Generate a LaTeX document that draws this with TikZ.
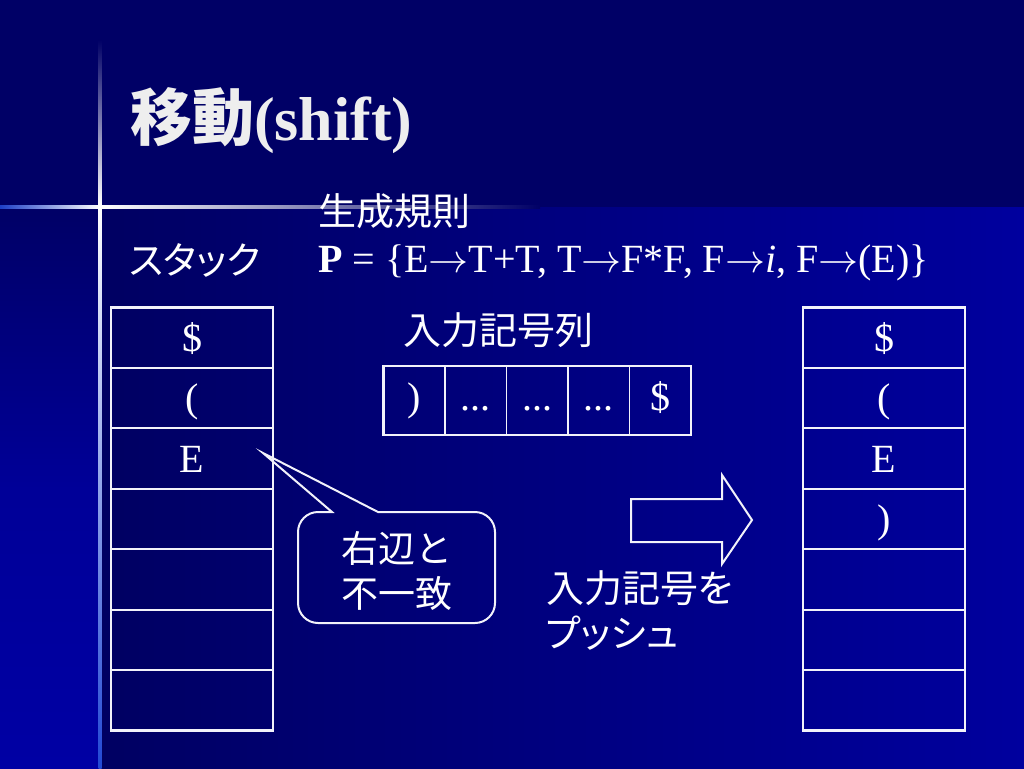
\documentclass[tikz,border=0pt]{standalone}
\usepackage{graphicx}
\usepackage{fontspec}
\setmainfont{Liberation Serif}
\newfontfamily\jp{Noto Sans CJK JP}
\newfontfamily\jpp{Noto Sans CJK JP}[RawFeature=+palt]
\newcommand\tapedots{...}
\newcommand\rarr{\mbox{\fontsize{10}{12}\selectfont\scalebox{4}{$\rightarrow$}}}
\definecolor{bandnavy}{HTML}{000066}
\definecolor{mainleft}{HTML}{000062}
\definecolor{mainright}{HTML}{00009E}
\definecolor{stripblue}{HTML}{0000A4}
\definecolor{glowblue}{HTML}{2A5AF0}
\definecolor{titlegray}{HTML}{EEEEEE}
\definecolor{linewhite}{HTML}{F2F2FA}
\tikzset{
  stackcell/.style={draw=linewhite, line width=1.8pt, minimum width=162pt, minimum height=60.43pt,
    inner sep=0pt, outer sep=0pt, text=white, font=\fontsize{40}{48}\selectfont,
    text height=27pt, text depth=0pt},
  tapecell/.style={draw=linewhite, line width=1.8pt, minimum width=61.6pt, minimum height=69pt,
    inner sep=0pt, outer sep=0pt, text=white, font=\fontsize{40}{48}\selectfont,
    text height=19pt, text depth=0pt},
  frame/.style={draw=linewhite, line width=2.6pt},
  jptext/.style={text=white, inner sep=0pt, font=\jp\fontsize{38}{45}\selectfont},
  outline/.style={draw=linewhite, line width=2pt, line join=miter},
}
\begin{document}
\begin{tikzpicture}[x=1pt,y=-1pt]
\useasboundingbox (0,0) rectangle (1024,768);
% background
\fill[bandnavy] (0,0) rectangle (1024,768);
\shade[left color=mainleft, right color=mainright] (100,207) rectangle (1024,768);
\shade[top color=bandnavy, bottom color=stripblue, middle color=stripblue!80!bandnavy] (0,207) rectangle (100,768);
% sparkle
\shade[left color=glowblue!70!bandnavy, right color=white] (0,205) rectangle (100,208.5);
\shade[left color=white, middle color=glowblue, right color=bandnavy] (100,205) rectangle (540,208.5);
\shade[top color=bandnavy, bottom color=white] (98.5,40) rectangle (101.5,206);
\shade[top color=white, middle color=glowblue, bottom color=glowblue!80!bandnavy] (98.5,206) rectangle (101.5,768);
\fill[white] (100,206.7) circle (2.2);

% title
\node[anchor=base west, text=titlegray, inner sep=0pt,
  font=\fontsize{62}{70}\selectfont\bfseries] (title) at (130,140) {{\jp 移動}(shift)};

% headings
\node[jptext, anchor=base west] (rules) at (318,225) {生成規則};
\node[jptext, anchor=base west, font=\jpp\fontsize{38}{45}\selectfont] (stacklbl) at (129,274) {スタック};
\node[anchor=base west, text=white, inner sep=0pt, font=\fontsize{40}{48}\selectfont] (prod) at (318,272)
  {\textbf{P} = \{E\rarr T+T, T\rarr F*F, F\rarr\textit{i}, F\rarr(E)\}};
\node[jptext, anchor=base west] (inputlbl) at (403,344) {入力記号列};

% left stack
\foreach \k/\t in {1/\$,2/(,3/E,4/,5/,6/,7/} {
  \node[stackcell] (L\k) at (192,{307.5+60.43*(\k-0.5)}) {\t};
}
\draw[frame] (L1.north west) rectangle (L7.south east);

% right stack
\foreach \k/\t in {1/\$,2/(,3/E,4/),5/,6/,7/} {
  \node[stackcell] (R\k) at (884,{307.5+60.43*(\k-0.5)}) {\t};
}
\draw[frame] (R1.north west) rectangle (R7.south east);

% input tape
\foreach \k/\t in {1/),2/\tapedots,3/\tapedots,4/\tapedots,5/\$} {
  \node[tapecell] (T\k) at ({383.5+61.5*(\k-0.5)},400.5) {\t};
}
\draw[frame] (T1.north west) rectangle (T5.south east);

% callout
\coordinate (tip) at (263,453);
\draw[outline] (332,512) -- (318,512) .. controls (307,512) and (298,521) .. (298,532)
  -- (298,603) .. controls (298,614) and (307,623) .. (318,623)
  -- (475,623) .. controls (486,623) and (495,614) .. (495,603)
  -- (495,532) .. controls (495,521) and (486,512) .. (475,512)
  -- (378,512) -- (tip) -- cycle;
\node[jptext, align=center, font=\jp\fontsize{37}{45}\selectfont, anchor=base] (mismatch) at (397,607) {右辺と\\不一致};

% block arrow
\draw[outline] (631,499) -- (722,499) -- (722,475) -- (752,520) -- (722,564) -- (722,542) -- (631,542) -- cycle;
\node[jptext, align=left, anchor=base west, font=\jpp\fontsize{38}{45}\selectfont] (push) at (546,647) {入力記号を\\プッシュ};
\end{tikzpicture}
\end{document}
